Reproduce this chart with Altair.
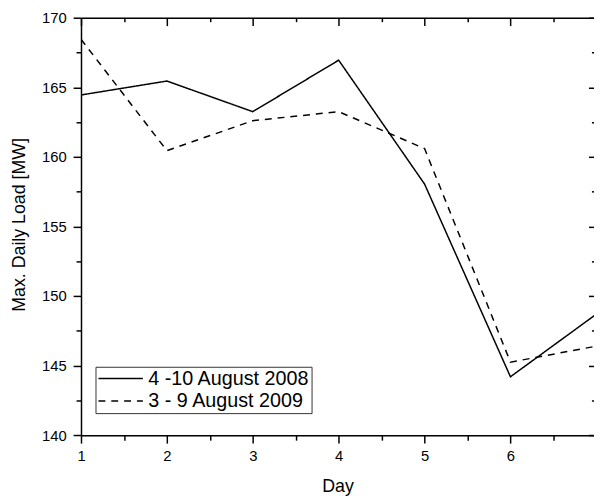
import altair as alt
import pandas as pd

# ---- data ----
days = [1, 2, 3, 4, 5, 6, 7]
load_2008 = [164.45, 165.45, 163.25, 166.95, 158.05, 144.2, 148.7]
load_2009 = [168.45, 160.45, 162.6, 163.25, 160.6, 145.25, 146.4]
series_names = ["4 -10 August 2008", "3 - 9 August 2009"]

x_major = [1, 2, 3, 4, 5, 6, 7]
x_minor = [1.5, 2.5, 3.5, 4.5, 5.5, 6.5]
y_major = [140, 145, 150, 155, 160, 165, 170]
y_minor = [142.5, 147.5, 152.5, 157.5, 162.5, 167.5]

rows = []
for name, vals in zip(series_names, [load_2008, load_2009]):
    for d, v in zip(days, vals):
        rows.append({"day": d, "load": v, "series": name})
df = pd.DataFrame(rows)

W, H = 520, 423.2
XMAX = 1 + W / 87.06  # the reference is cropped just before day 7
FONT = "Liberation Sans"

xs = alt.Scale(domain=[1, XMAX], nice=False, zero=False)
ys = alt.Scale(domain=[140, 170], nice=False, zero=False)

common = dict(grid=False, tickColor="black", tickWidth=1.5,
              domainColor="black", domainWidth=1.5,
              labelFont=FONT, labelColor="black",
              titleFont=FONT, titleColor="black")


def ax(**kw):
    d = dict(common)
    d.update(kw)
    return alt.Axis(**d)


x_main = ax(orient="bottom", values=x_major, tickSize=8, labelFontSize=15,
            labelPadding=6, labelFlush=False, format="d",
            title="Day", titleFontSize=18, titleFontWeight="normal",
            titleY=57, titleBaseline="alphabetic")
y_main = ax(orient="left", values=y_major, tickSize=8, labelFontSize=15,
            labelPadding=7, format="d",
            title="Max. Daily Load [MW]", titleFontSize=18,
            titleFontWeight="normal", titleX=-57, titleY=209.5,
            titleAlign="center", titleBaseline="alphabetic", titleAngle=270)

x_minor_ax = ax(orient="bottom", values=x_minor, tickSize=5, labels=False,
                domain=False)
y_minor_ax = ax(orient="left", values=y_minor, tickSize=5, labels=False,
                domain=False)

x_top_major = ax(orient="bottom", offset=-H, values=x_major, tickSize=8,
                 labels=False, domain=True)
y_right_major = ax(orient="left", offset=-(W + 2.4), values=y_major,
                   tickSize=8, labels=False, domain=False)
x_top_minor = ax(orient="bottom", offset=-H, values=x_minor, tickSize=4,
                 labels=False, domain=False)
y_right_minor = ax(orient="left", offset=-(W + 2.4), values=y_minor,
                   tickSize=5, labels=False, domain=False)

base = alt.Chart(df)

lines = base.mark_line(clip=True, strokeWidth=1.5, color="black").encode(
    x=alt.X("day:Q", scale=xs, axis=x_main),
    y=alt.Y("load:Q", scale=ys, axis=y_main),
    strokeDash=alt.StrokeDash(
        "series:N",
        scale=alt.Scale(domain=series_names, range=[[1, 0], [7, 6]]),
        title=None,
        legend=alt.Legend(orient="none", legendX=14.7, legendY=353.8,
                          strokeColor="#333", fillColor="white", padding=2,
                          symbolType="M-4.5,0H4.5", symbolSize=100,
                          symbolOffset=13.5,
                          symbolStrokeWidth=1.5, symbolStrokeColor="black",
                          labelFont=FONT, labelFontSize=20,
                          labelColor="black", labelOffset=18,
                          rowPadding=2.7, labelLimit=400),
    ),
)


def ghost(xa, ya):
    return base.mark_point(opacity=0, clip=True).encode(
        x=alt.X("day:Q", scale=xs, axis=xa, title=None),
        y=alt.Y("load:Q", scale=ys, axis=ya, title=None),
    )


chart = alt.layer(
    lines,
    ghost(x_minor_ax, y_minor_ax),
    ghost(x_top_major, y_right_major),
    ghost(x_top_minor, y_right_minor),
).resolve_axis(x="independent", y="independent").properties(
    width=W, height=H,
    padding={"left": 74, "top": 6.5, "right": 0, "bottom": 63},
    autosize=alt.AutoSizeParams(type="none"),
).configure_view(stroke="transparent").configure(font=FONT)

chart.save("out.html", embed_options={"renderer": "svg", "actions": False})
